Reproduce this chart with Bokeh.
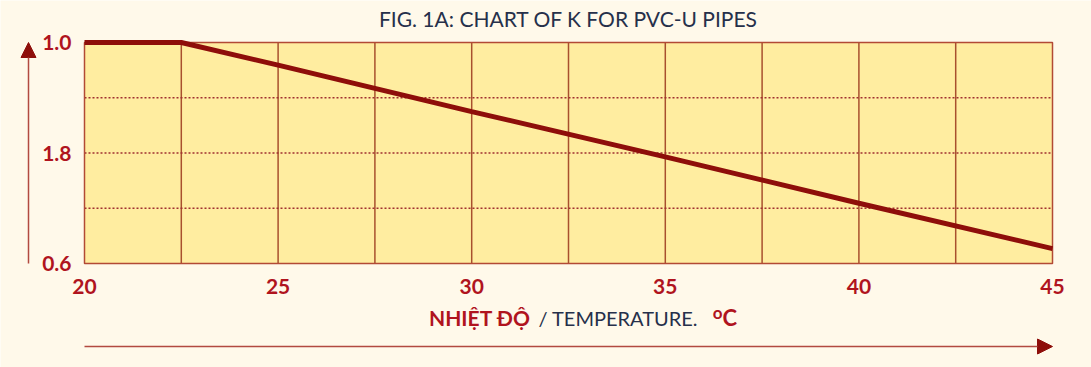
from bokeh.plotting import figure
from bokeh.models import FixedTicker, Label, Arrow, NormalHead, Range1d
from bokeh.embed import file_html
from bokeh.resources import INLINE

# data
temps = [20, 22.5, 25, 30, 35, 40, 45]
k_vals = [1.0, 1.0, 0.959, 0.875, 0.793, 0.709, 0.627]
x_ticks = [20, 25, 30, 35, 40, 45]
x_tick_labels = ["20", "25", "30", "35", "40", "45"]
y_ticks = [0.6, 0.8, 1.0]
y_tick_labels = ["0.6", "1.8", "1.0"]
x_grid = [22.5, 25, 27.5, 30, 32.5, 35, 37.5, 40, 42.5]
y_grid = [0.7, 0.8, 0.9]
x_min, x_max = 20, 45
y_min, y_max = 0.6, 1.0
title_text = "FIG. 1A: CHART OF K FOR PVC-U PIPES"

RED = "#B0141E"
DARK = "#26304A"
GRID = "#A8502E"
LINE = "#8E0E0A"
BG = "#FFF9EA"
PLOT_BG = "#FFEDA0"

W, H = 1091, 367
FL, FR, FT, FB = 84, 1052, 42, 263  # frame pixel box of the chart area
sx = (FR - FL) / (x_max - x_min)
sy = (FB - FT) / (y_max - y_min)

def px_to_x(px):
    return x_min + (px - FL) / sx

def px_to_y(py):
    return y_max - (py - FT) / sy

p = figure(width=W, height=H, output_backend="svg", toolbar_location=None,
           x_range=Range1d(px_to_x(0), px_to_x(W)), y_range=Range1d(px_to_y(H), px_to_y(0)),
           min_border=0)
p.background_fill_color = BG
p.border_fill_color = BG
p.outline_line_color = None
p.grid.visible = False

# chart area
p.quad(left=[x_min], right=[x_max], bottom=[y_min], top=[y_max],
       fill_color=PLOT_BG, line_color=None)
p.segment(x0=x_grid, y0=[y_min] * len(x_grid), x1=x_grid, y1=[y_max] * len(x_grid),
          line_color=GRID, line_width=1.5)
p.segment(x0=[x_min] * len(y_grid), y0=y_grid, x1=[x_max] * len(y_grid), y1=y_grid,
          line_color="#A03030", line_width=1.5, line_dash="2 2")
p.quad(left=[x_min], right=[x_max], bottom=[y_min], top=[y_max],
       fill_color=None, line_color="#B24A35", line_width=1.5)

for ax in (p.xaxis[0], p.yaxis[0]):
    ax.axis_line_color = None
    ax.major_tick_line_color = None
    ax.minor_tick_line_color = None
    ax.major_label_text_color = RED
    ax.major_label_text_font = "Lato"
    ax.major_label_text_font_style = "bold"
    ax.major_label_text_font_size = "21px"

p.xaxis.fixed_location = y_min
p.xaxis.ticker = FixedTicker(ticks=x_ticks)
p.xaxis.major_label_overrides = {t: l for t, l in zip(x_ticks, x_tick_labels)}
p.xaxis.major_label_standoff = 9
p.yaxis.fixed_location = x_min
p.yaxis.ticker = FixedTicker(ticks=y_ticks)
p.yaxis.major_label_overrides = {t: l for t, l in zip(y_ticks, y_tick_labels)}
p.yaxis.major_label_standoff = 7

p.line(temps, k_vals, line_color=LINE, line_width=5)

p.add_layout(Label(x=(x_min + x_max) / 2, y=px_to_y(18), text=title_text, text_align="center",
                   text_color=DARK, text_font="Lato", text_font_size="21px",
                   text_baseline="middle"))

ly = px_to_y(317)
p.add_layout(Label(x=px_to_x(530), y=ly, text="NHIỆT ĐỘ", text_align="right",
                   text_color=RED, text_font="Lato", text_font_style="bold",
                   text_font_size="21px", text_baseline="middle"))
p.add_layout(Label(x=px_to_x(538), y=ly, text="/ TEMPERATURE.", text_align="left",
                   text_color=DARK, text_font="Lato", text_font_size="20px",
                   text_baseline="middle"))
p.add_layout(Label(x=px_to_x(722), y=ly, text="C", text_align="left",
                   text_color=RED, text_font="Lato", text_font_style="bold",
                   text_font_size="22px", text_baseline="middle"))
p.add_layout(Label(x=px_to_x(722), y=px_to_y(312), text="o", text_align="right",
                   text_color=RED, text_font="Lato", text_font_style="bold",
                   text_font_size="17px", text_baseline="middle"))

ARROW = "#B24A40"
p.add_layout(Arrow(x_start=px_to_x(28), y_start=y_min, x_end=px_to_x(28), y_end=y_max,
                   line_color=ARROW, line_width=1.5,
                   end=NormalHead(size=15, fill_color="#8E0E0A", line_color="#8E0E0A")))
p.add_layout(Arrow(x_start=x_min, y_start=px_to_y(346), x_end=x_max, y_end=px_to_y(346),
                   line_color=ARROW, line_width=1.5,
                   end=NormalHead(size=15, fill_color="#8E0E0A", line_color="#8E0E0A")))

open("out.html", "w").write(file_html(p, INLINE))
